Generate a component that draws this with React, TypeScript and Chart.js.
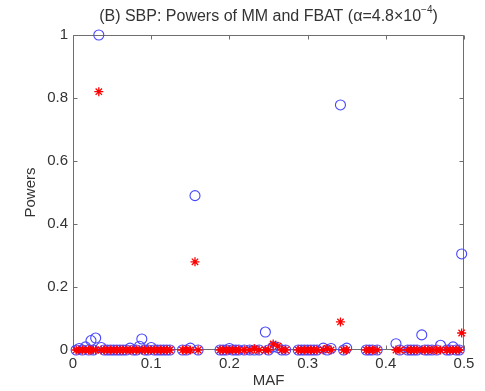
import React, { useEffect, useRef } from "react";
import { Chart, registerables } from "chart.js";

Chart.register(...registerables);

// SNP minor allele frequencies (x)
const MAF = [
  0.004, 0.008, 0.012, 0.016, 0.02, 0.023, 0.026, 0.029, 0.033, 0.036,
  0.04, 0.044, 0.048, 0.052, 0.056, 0.06, 0.064, 0.068, 0.073, 0.077,
  0.081, 0.085, 0.088, 0.092, 0.096, 0.1, 0.104, 0.108, 0.112, 0.116,
  0.12, 0.124, 0.14, 0.145, 0.15, 0.156, 0.16, 0.188, 0.192, 0.196,
  0.2, 0.204, 0.208, 0.212, 0.219, 0.226, 0.232, 0.238, 0.246, 0.25,
  0.256, 0.262, 0.267, 0.272, 0.288, 0.292, 0.296, 0.3, 0.304, 0.308,
  0.312, 0.32, 0.325, 0.33, 0.342, 0.346, 0.35, 0.375, 0.379, 0.383,
  0.389, 0.413, 0.418, 0.428, 0.432, 0.436, 0.44, 0.446, 0.45, 0.454,
  0.459, 0.465, 0.47, 0.478, 0.482, 0.486, 0.49, 0.494, 0.497,
];

// Power of MM (blue circles)
const MM_POWER = [
  0, 0.005, 0, 0.01, 0, 0.03, 0, 0.038, 1.0, 0.008,
  0, 0, 0, 0, 0, 0, 0, 0, 0.006, 0,
  0, 0.012, 0.035, 0, 0, 0.008, 0, 0, 0, 0,
  0, 0, 0, 0, 0.006, 0.49, 0, 0, 0, 0,
  0.005, 0, 0, 0, 0, 0, 0, 0, 0.057, 0,
  0.01, 0.008, 0, 0, 0, 0, 0, 0, 0, 0,
  0, 0.006, 0, 0.005, 0.778, 0, 0.006, 0, 0, 0,
  0, 0.02, 0, 0, 0, 0, 0, 0.048, 0, 0,
  0, 0, 0.015, 0, 0, 0.01, 0, 0, 0.305,
];

// Power of FBAT (red stars)
const FBAT_POWER = [
  0, 0, 0, 0, 0, 0, 0, 0, 0.82, 0,
  0, 0, 0, 0, 0, 0, 0, 0, 0, 0,
  0, 0, 0, 0, 0, 0, 0, 0, 0, 0,
  0, 0, 0, 0, 0, 0.28, 0, 0, 0, 0,
  0, 0, 0, 0, 0, 0, 0.004, 0, 0, 0,
  0.019, 0.012, 0, 0, 0, 0, 0, 0, 0, 0,
  0, 0, 0.005, 0, 0.089, 0, 0, 0, 0, 0,
  0, 0, 0, 0, 0, 0, 0, 0, 0, 0,
  0, 0, 0, 0, 0, 0, 0, 0, 0.054,
];

const X_TICKS = [0, 0.1, 0.2, 0.3, 0.4, 0.5];
const Y_TICKS = [0, 0.2, 0.4, 0.6, 0.8, 1];

const TITLE_MAIN = "(B) SBP: Powers of MM and FBAT (\u03b1=4.8\u00d710";
const TITLE_SUP = "\u22124";
const TITLE_END = ")";
const X_TITLE = "MAF";
const Y_TITLE = "Powers";

const FONT = "'Liberation Sans', Arial, sans-serif";
const TEXT_COLOR = "#333333";
const AXIS_COLOR = "#6e6e6e";

const framePlugin = {
  id: "matlabFrame",
  beforeDatasetsDraw(chart: any) {
    const { ctx, chartArea } = chart;
    const { left, right, top, bottom } = chartArea;
    const xs = chart.scales.x;
    const ys = chart.scales.y;
    const L = Math.round(left) + 0.5;
    const R = Math.round(right) - 0.5;
    const T = Math.round(top) + 0.5;
    const B = Math.round(bottom) - 0.5;
    ctx.save();
    ctx.strokeStyle = AXIS_COLOR;
    ctx.lineWidth = 1;
    ctx.beginPath();
    ctx.rect(L, T, R - L, B - T);
    const tl = 4;
    X_TICKS.forEach((v) => {
      const px = Math.round(xs.getPixelForValue(v)) + 0.5;
      ctx.moveTo(px, B);
      ctx.lineTo(px, B - tl);
      ctx.moveTo(px, T);
      ctx.lineTo(px, T + tl);
    });
    Y_TICKS.forEach((v) => {
      const py = Math.round(ys.getPixelForValue(v)) + 0.5;
      ctx.moveTo(L, py);
      ctx.lineTo(L + tl, py);
      ctx.moveTo(R, py);
      ctx.lineTo(R - tl, py);
    });
    ctx.stroke();
    ctx.restore();
  },
  afterDraw(chart: any) {
    const { ctx, chartArea } = chart;
    const { left, right, top, bottom } = chartArea;
    const cx = (left + right) / 2;
    ctx.save();
    ctx.fillStyle = TEXT_COLOR;
    ctx.textBaseline = "middle";
    // title
    ctx.font = `16px ${FONT}`;
    const w1 = ctx.measureText(TITLE_MAIN).width;
    const w3 = ctx.measureText(TITLE_END).width;
    ctx.font = `10px ${FONT}`;
    const w2 = ctx.measureText(TITLE_SUP).width;
    const total = w1 + w2 + w3;
    const x0 = cx - total / 2;
    const ty = 17;
    ctx.textAlign = "left";
    ctx.font = `16px ${FONT}`;
    ctx.fillText(TITLE_MAIN, x0, ty);
    ctx.font = `10px ${FONT}`;
    ctx.fillText(TITLE_SUP, x0 + w1, ty - 7);
    ctx.font = `16px ${FONT}`;
    ctx.fillText(TITLE_END, x0 + w1 + w2, ty);
    // x title
    ctx.font = `15px ${FONT}`;
    ctx.textAlign = "center";
    ctx.fillText(X_TITLE, cx, bottom + 31);
    // y title
    ctx.translate(31, (top + bottom) / 2);
    ctx.rotate(-Math.PI / 2);
    ctx.fillText(Y_TITLE, 0, 0);
    ctx.restore();
  },
};

export default function App() {
  const ref = useRef<HTMLCanvasElement | null>(null);

  useEffect(() => {
    if (!ref.current) return;
    const mmData = MAF.map((x, i) => ({ x, y: MM_POWER[i] }));
    const fbatData = MAF.map((x, i) => ({ x, y: FBAT_POWER[i] }));
    const chart = new Chart(ref.current, {
      type: "scatter",
      data: {
        datasets: [
          {
            label: "FBAT",
            data: fbatData,
            pointStyle: "star",
            radius: 4.5,
            borderColor: "rgb(255,0,0)",
            backgroundColor: "rgb(255,0,0)",
            borderWidth: 1.3,
            order: 0,
            clip: false,
          } as any,
          {
            label: "MM",
            data: mmData,
            pointStyle: "circle",
            radius: 5,
            borderColor: "rgb(70,70,255)",
            backgroundColor: "rgba(0,0,0,0)",
            borderWidth: 1.1,
            order: 1,
            clip: false,
          } as any,
        ],
      },
      options: {
        responsive: false,
        animation: false,
        layout: { padding: { top: 35, right: 21, left: 0, bottom: 0 } },
        plugins: {
          legend: { display: false },
          title: { display: false },
          tooltip: { enabled: false },
        },
        scales: {
          x: {
            type: "linear",
            min: 0,
            max: 0.5,
            afterFit: (s: any) => {
              s.height = 41;
            },
            afterBuildTicks: (s: any) => {
              s.ticks = X_TICKS.map((v) => ({ value: v }));
            },
            grid: { display: false, drawTicks: false },
            border: { display: false },
            ticks: {
              padding: 5,
              color: TEXT_COLOR,
              font: { family: FONT, size: 15 },
              callback: (v: any) => String(Math.round(Number(v) * 10) / 10),
            },
          },
          y: {
            type: "linear",
            min: 0,
            max: 1,
            afterFit: (s: any) => {
              s.width = 73;
            },
            afterBuildTicks: (s: any) => {
              s.ticks = Y_TICKS.map((v) => ({ value: v }));
            },
            grid: { display: false, drawTicks: false },
            border: { display: false },
            ticks: {
              padding: 5,
              color: TEXT_COLOR,
              font: { family: FONT, size: 15 },
              callback: (v: any) => String(Math.round(Number(v) * 10) / 10),
            },
          },
        },
      },
      plugins: [framePlugin],
    });
    return () => chart.destroy();
  }, []);

  return (
    <div style={{ position: "fixed", left: 0, top: 0, width: 485, height: 391, background: "#fff" }}>
      <canvas ref={ref} width={485} height={391} style={{ width: 485, height: 391, display: "block" }} />
    </div>
  );
}
